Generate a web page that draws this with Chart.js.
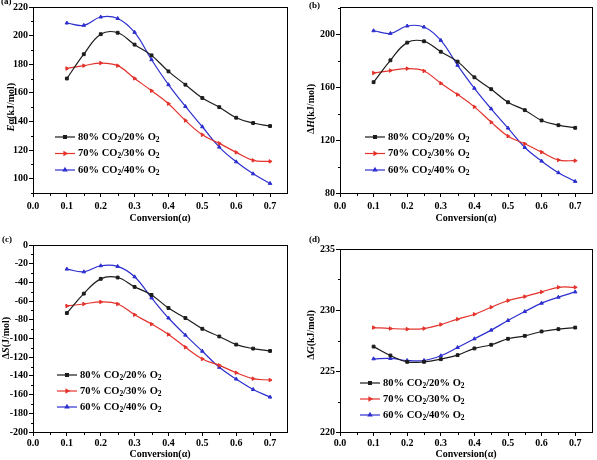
<!DOCTYPE html>
<html>
<head>
<meta charset="utf-8">
<script src="https://cdn.jsdelivr.net/npm/chart.js@4/dist/chart.umd.min.js"></script>
<style>
    body { margin: 0; background: #fff; width: 597px; height: 460px; position: relative; overflow: hidden; font-family: "Liberation Serif", serif; }
    canvas { position: absolute; }
    .tag { position: absolute; font: bold 9px "Liberation Serif", serif; color: #000; }
    .yt { position: absolute; font: bold 10px "Liberation Serif", serif; color: #000; white-space: nowrap;
          transform: translate(-50%, -50%) rotate(-90deg); }
</style>
</head>
<body>
<canvas id="chartA" width="297" height="230" style="left:0;top:0"></canvas>
<canvas id="chartB" width="300" height="230" style="left:297px;top:0"></canvas>
<canvas id="chartC" width="297" height="230" style="left:0;top:230px"></canvas>
<canvas id="chartD" width="300" height="230" style="left:297px;top:230px"></canvas>

<div class="tag" style="left:1px;top:-4px">(a)</div>
<div class="tag" style="left:309px;top:0px">(b)</div>
<div class="tag" style="left:2px;top:234px">(c)</div>
<div class="tag" style="left:309px;top:234px">(d)</div>

<div class="yt" style="left:10px;top:107px"><i>E</i>α(kJ/mol)</div>
<div class="yt" style="left:310px;top:109px">Δ<i>H</i>(kJ/mol)</div>
<div class="yt" style="left:5px;top:338px">Δ<i>S</i>(J/mol)</div>
<div class="yt" style="left:310px;top:335px">Δ<i>G</i>(kJ/mol)</div>

<script>
// conversion points and series labels
const conversion = [0.1, 0.15, 0.2, 0.25, 0.3, 0.35, 0.4, 0.45, 0.5, 0.55, 0.6, 0.65, 0.7];
const seriesLabels = ['80% CO₂/20% O₂', '70% CO₂/30% O₂', '60% CO₂/40% O₂'];

// (a) Eα (kJ/mol)
const ea80 = [170, 187, 201, 202, 193.7, 186.2, 175, 165.7, 156.4, 150, 142.6, 138.9, 136.8];
const ea70 = [177, 179, 180.8, 179, 170.1, 161.5, 152.4, 140.7, 130.7, 124.7, 118.4, 112.8, 112.1];
const ea60 = [208.8, 207.2, 213, 212, 202.3, 183.2, 165.7, 150.5, 136.3, 122.1, 111.8, 103.4, 96.7];

// (b) ΔH (kJ/mol)
const dh80 = [164, 180.6, 194, 195, 187.1, 179.6, 167.7, 158.7, 148.8, 142.8, 135, 131.4, 129.4];
const dh70 = [171, 172.8, 174.3, 172.5, 163.2, 154.6, 145.3, 133.7, 123.1, 117.3, 111, 105, 104.5];
const dh60 = [203, 201, 206.6, 205.8, 195.7, 176.8, 159.4, 143.8, 129.2, 114.5, 104.2, 95.4, 88.8];

// (c) ΔS (J/mol)
const ds80 = [-72.8, -52, -36.2, -34.8, -44.8, -53.4, -67.4, -78.1, -89.6, -97.8, -106.5, -110.8, -113.3];
const ds70 = [-65.2, -63.1, -60.9, -63.1, -74.6, -84.6, -95.7, -109.3, -121.9, -128.7, -136.6, -143, -144.4];
const ds60 = [-25.8, -28.7, -22.2, -22.9, -34, -56.6, -78.1, -96.4, -113.6, -130.8, -143.4, -154.5, -162.7];

// (d) ΔG (kJ/mol)
const dg80 = [227.0, 226.27, 225.75, 225.75, 225.97, 226.3, 226.85, 227.15, 227.64, 227.88, 228.24, 228.43, 228.56];
const dg70 = [228.56, 228.48, 228.43, 228.48, 228.81, 229.25, 229.65, 230.23, 230.77, 231.1, 231.48, 231.86, 231.86];
const dg60 = [226.0, 226.03, 225.86, 225.86, 226.25, 226.93, 227.64, 228.35, 229.14, 229.87, 230.56, 231.05, 231.48];

// tick values
const xTicks = [0, 0.1, 0.2, 0.3, 0.4, 0.5, 0.6, 0.7];
const xMinor = [0.05, 0.15, 0.25, 0.35, 0.45, 0.55, 0.65];
const eaTicks = [100, 120, 140, 160, 180, 200, 220];
const eaMinor = [90, 110, 130, 150, 170, 190, 210];
const dhTicks = [80, 120, 160, 200];
const dhMinor = [100, 140, 180, 220];
const dsTicks = [0, -20, -40, -60, -80, -100, -120, -140, -160, -180, -200];
const dsMinor = [-10, -30, -50, -70, -90, -110, -130, -150, -170, -190];
const dgTicks = [220, 225, 230, 235];
const dgMinor = [222.5, 227.5, 232.5];

const colors = ['#1c1c1c', '#e4332c', '#2d2fcf'];
const styles = ['rect', 'triangle', 'triangle'];
const rotations = [0, 90, 0];
const tickFont = { family: '"Liberation Serif", serif', size: 10, weight: 'bold' };

// draws the box around the plot and the small minor ticks
const framePlugin = {
    id: 'frame',
    afterDraw(chart, args, opts) {
        const ctx = chart.ctx;
        const a = chart.chartArea;
        const l = Math.round(a.left) + 0.5, t = Math.round(a.top) + 0.5;
        const r = Math.round(a.right) + 0.5, b = Math.round(a.bottom) + 0.5;
        ctx.save();
        ctx.strokeStyle = '#000';
        ctx.lineWidth = 1;
        ctx.strokeRect(l, t, r - l, b - t);
        ctx.beginPath();
        opts.xMinor.forEach(v => {
            const x = Math.round(chart.scales.x.getPixelForValue(v)) + 0.5;
            ctx.moveTo(x, b); ctx.lineTo(x, b + 2.5);
        });
        opts.yMinor.forEach(v => {
            const y = Math.round(chart.scales.y.getPixelForValue(v)) + 0.5;
            ctx.moveTo(l, y); ctx.lineTo(l - 2.5, y);
        });
        ctx.stroke();
        ctx.restore();
    }
};

// text with the ₂ drawn as a lowered, smaller 2
function drawRich(ctx, text, x, y) {
    const big = 'bold 10.5px "Liberation Serif", serif';
    const small = 'bold 7.5px "Liberation Serif", serif';
    let run = '';
    const flush = () => {
        if (!run) return;
        ctx.font = big;
        ctx.fillText(run, x, y);
        x += ctx.measureText(run).width;
        run = '';
    };
    for (const ch of text) {
        if (ch === '₂') {
            flush();
            ctx.font = small;
            ctx.fillText('2', x, y + 3);
            x += ctx.measureText('2').width;
        } else {
            run += ch;
        }
    }
    flush();
}

const legendPlugin = {
    id: 'inlineLegend',
    afterDraw(chart, args, opts) {
        const ctx = chart.ctx;
        chart.data.datasets.forEach((ds, i) => {
            const x = opts.x, y = opts.y + i * opts.dy;
            ctx.save();
            ctx.strokeStyle = ds.borderColor;
            ctx.fillStyle = ds.borderColor;
            ctx.lineWidth = 1.2;
            ctx.beginPath();
            ctx.moveTo(x, y);
            ctx.lineTo(x + 20, y);
            ctx.stroke();
            Chart.helpers.drawPoint(ctx, { pointStyle: ds.pointStyle, radius: 2, rotation: ds.pointRotation, borderWidth: 1 }, x + 10, y);
            ctx.fillStyle = '#000';
            ctx.textBaseline = 'middle';
            ctx.textAlign = 'left';
            drawRich(ctx, ds.label, x + 23, y);
            ctx.restore();
        });
    }
};

function makePanel(id, series, yMin, yMax, yTicks, yMinor, box) {
    const ctx = document.getElementById(id).getContext('2d');
    return new Chart(ctx, {
        type: 'line',
        data: {
            datasets: series.map((s, i) => ({
                label: seriesLabels[i],
                data: conversion.map((x, j) => ({ x: x, y: s[j] })),
                borderColor: colors[i],
                backgroundColor: colors[i],
                borderWidth: 1.2,
                pointStyle: styles[i],
                pointRotation: rotations[i],
                pointRadius: 2,
                pointBorderWidth: 1,
                tension: 0.4,
                fill: false
            }))
        },
        options: {
            responsive: false,
            animation: false,
            layout: { padding: { top: box.top, right: box.right, left: 0, bottom: 0 } },
            plugins: {
                legend: { display: false },
                tooltip: { enabled: false },
                frame: { xMinor: xMinor, yMinor: yMinor },
                inlineLegend: box.legend
            },
            scales: {
                x: {
                    type: 'linear',
                    min: 0,
                    max: 0.75,
                    afterBuildTicks: scale => { scale.ticks = xTicks.map(v => ({ value: v })); },
                    afterFit: scale => { scale.height = box.xh; },
                    ticks: { callback: v => Number(v).toFixed(1), font: tickFont, color: '#000', padding: box.xpad, maxRotation: 0, autoSkip: false },
                    grid: { drawOnChartArea: false, tickLength: 4, color: '#000' },
                    border: { color: '#000' },
                    title: { display: true, text: 'Conversion(α)', color: '#000', font: tickFont, padding: { top: 0, bottom: box.tpad } }
                },
                y: {
                    min: yMin,
                    max: yMax,
                    afterBuildTicks: scale => { scale.ticks = yTicks.map(v => ({ value: v })); },
                    afterFit: scale => { scale.width = box.left; },
                    ticks: { font: tickFont, color: '#000', padding: 1 },
                    grid: { drawOnChartArea: false, tickLength: 4, color: '#000' },
                    border: { color: '#000' }
                }
            }
        },
        plugins: [framePlugin, legendPlugin]
    });
}

makePanel('chartA', [ea80, ea70, ea60], 90, 220, eaTicks, eaMinor,
    { left: 33, right: 10, top: 7, xh: 37, xpad: 3, tpad: 6, legend: { x: 55, y: 137, dy: 16.5 } });
makePanel('chartB', [dh80, dh70, dh60], 80, 221, dhTicks, dhMinor,
    { left: 43, right: 5, top: 7, xh: 37, xpad: 3, tpad: 6, legend: { x: 68, y: 137, dy: 16.5 } });
makePanel('chartC', [ds80, ds70, ds60], -200, 0, dsTicks, dsMinor,
    { left: 33, right: 10, top: 15, xh: 28, xpad: 1, tpad: 0, legend: { x: 57, y: 145, dy: 16 } });
makePanel('chartD', [dg80, dg70, dg60], 220, 235, dgTicks, dgMinor,
    { left: 43, right: 5, top: 19, xh: 28, xpad: 1, tpad: 0, legend: { x: 63, y: 153, dy: 16 } });
</script>
</body>
</html>
